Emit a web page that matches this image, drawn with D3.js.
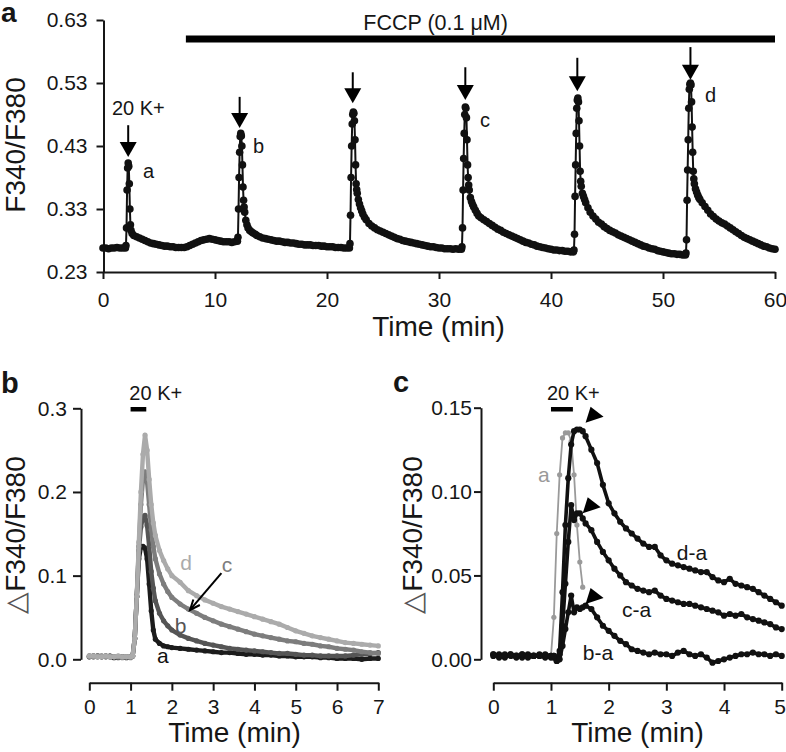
<!DOCTYPE html>
<html><head><meta charset="utf-8">
<script src="https://cdn.jsdelivr.net/npm/d3@7"></script>
<style>body{margin:0;background:#fff}</style>
</head><body><svg id="chart" width="786" height="752"></svg>
<script>
// ---------------- DATA ----------------
// Panel a: F340/F380 ratio over time [min, ratio]
const traceA = [
[0,0.268],[0.25,0.268],[0.5,0.267],[0.75,0.268],[1,0.268],[1.25,0.269],[1.5,0.268],[1.75,0.268],[2,0.268],
[2.05,0.272],[2.1,0.3],[2.15,0.36],[2.2,0.395],[2.25,0.403],[2.3,0.398],[2.35,0.37],[2.4,0.33],[2.45,0.305],[2.5,0.296],[2.6,0.291],[2.75,0.288],
[3,0.286],[3.25,0.284],[3.5,0.282],[3.75,0.28],[4,0.278],[4.25,0.276],[4.5,0.275],[4.75,0.274],[5,0.273],[5.25,0.272],[5.5,0.271],[5.75,0.271],
[6,0.27],[6.25,0.27],[6.5,0.269],[6.75,0.269],[7,0.269],[7.25,0.269],[7.5,0.27],[7.75,0.272],[8,0.274],[8.25,0.276],[8.5,0.278],[8.75,0.28],
[9,0.281],[9.25,0.282],[9.5,0.283],[9.75,0.282],[10,0.281],[10.25,0.28],[10.5,0.279],[10.75,0.278],[11,0.278],[11.25,0.278],[11.5,0.277],[11.75,0.278],[12,0.279],
[12.05,0.285],[12.1,0.33],[12.15,0.38],[12.2,0.42],[12.25,0.445],[12.3,0.45],[12.35,0.446],[12.4,0.43],[12.45,0.4],[12.5,0.365],[12.55,0.344],[12.6,0.333],[12.65,0.325],[12.75,0.312],[12.85,0.305],[12.95,0.3],[13.1,0.296],
[13.25,0.294],[13.4,0.292],[13.6,0.29],[13.75,0.288],[14,0.286],[14.25,0.284],[14.5,0.283],[14.75,0.282],[15,0.281],[15.25,0.28],[15.5,0.279],[15.75,0.279],[16,0.278],[16.25,0.277],[16.5,0.277],[16.75,0.276],
[17,0.276],[17.25,0.275],[17.5,0.274],[17.75,0.274],[18,0.273],[18.25,0.273],[18.5,0.273],[18.75,0.272],[19,0.272],[19.25,0.272],[19.5,0.271],[19.75,0.271],
[20,0.27],[20.25,0.27],[20.5,0.27],[20.75,0.269],[21,0.269],[21.25,0.269],[21.5,0.268],[21.75,0.268],[22,0.268],
[22.05,0.275],[22.1,0.32],[22.15,0.38],[22.2,0.43],[22.25,0.465],[22.3,0.48],[22.35,0.484],[22.4,0.482],[22.45,0.47],[22.5,0.44],[22.55,0.4],[22.6,0.37],[22.65,0.361],[22.7,0.355],[22.8,0.345],[22.9,0.338],[23,0.332],[23.1,0.327],[23.2,0.322],
[23.35,0.317],[23.5,0.313],[23.75,0.307],[24,0.303],[24.25,0.3],[24.5,0.297],[24.75,0.295],[25,0.293],[25.25,0.291],[25.5,0.289],[25.75,0.287],[26,0.285],[26.25,0.283],[26.5,0.282],[26.75,0.28],
[27,0.279],[27.25,0.278],[27.5,0.277],[27.75,0.276],[28,0.275],[28.25,0.274],[28.5,0.273],[28.75,0.272],[29,0.271],[29.25,0.27],[29.5,0.27],[29.75,0.269],
[30,0.268],[30.25,0.268],[30.5,0.267],[30.75,0.267],[31,0.267],[31.25,0.266],[31.5,0.267],[31.75,0.266],[32,0.266],
[32.05,0.27],[32.1,0.3],[32.15,0.36],[32.2,0.41],[32.25,0.45],[32.3,0.48],[32.35,0.492],[32.4,0.49],[32.45,0.475],[32.5,0.44],[32.55,0.4],[32.6,0.38],[32.65,0.368],[32.7,0.36],[32.8,0.348],[32.9,0.342],[33,0.337],[33.1,0.333],
[33.25,0.328],[33.4,0.323],[33.55,0.319],[33.75,0.316],[34,0.313],[34.25,0.31],[34.5,0.307],[34.75,0.304],[35,0.301],[35.25,0.298],[35.5,0.296],[35.75,0.293],[36,0.291],[36.25,0.289],[36.5,0.287],[36.75,0.285],
[37,0.283],[37.25,0.281],[37.5,0.279],[37.75,0.277],[38,0.276],[38.25,0.274],[38.5,0.273],[38.75,0.271],[39,0.27],[39.25,0.269],[39.5,0.268],[39.75,0.267],
[40,0.266],[40.25,0.265],[40.5,0.265],[40.75,0.264],[41,0.264],[41.25,0.263],[41.5,0.263],[41.75,0.262],[42,0.262],
[42.05,0.265],[42.1,0.29],[42.15,0.35],[42.2,0.4],[42.25,0.45],[42.3,0.49],[42.35,0.503],[42.4,0.506],[42.45,0.5],[42.5,0.47],[42.55,0.43],[42.6,0.39],[42.65,0.374],[42.7,0.366],[42.8,0.355],[42.9,0.35],[43,0.345],[43.1,0.34],
[43.3,0.332],[43.5,0.325],[43.75,0.319],[44,0.314],[44.25,0.309],[44.5,0.306],[44.75,0.302],[45,0.299],[45.25,0.296],[45.5,0.294],[45.75,0.292],[46,0.289],[46.25,0.287],[46.5,0.285],[46.75,0.283],
[47,0.281],[47.25,0.279],[47.5,0.277],[47.75,0.275],[48,0.273],[48.25,0.271],[48.5,0.27],[48.75,0.268],[49,0.267],[49.25,0.266],[49.5,0.264],[49.75,0.263],
[50,0.262],[50.25,0.261],[50.5,0.26],[50.75,0.259],[51,0.259],[51.25,0.258],[51.5,0.258],[51.75,0.257],[52,0.257],
[52.05,0.26],[52.1,0.281],[52.15,0.344],[52.2,0.392],[52.25,0.44],[52.3,0.49],[52.35,0.52],[52.4,0.528],[52.45,0.53],[52.5,0.527],[52.55,0.5],[52.6,0.46],[52.65,0.42],[52.7,0.39],[52.75,0.378],[52.8,0.37],[52.9,0.362],[53,0.357],[53.1,0.352],
[53.2,0.348],[53.3,0.345],[53.5,0.34],[53.75,0.334],[54,0.328],[54.25,0.322],[54.5,0.318],[54.75,0.314],[55,0.311],[55.25,0.308],[55.5,0.306],[55.75,0.303],
[56,0.3],[56.25,0.297],[56.5,0.294],[56.75,0.291],[57,0.288],[57.25,0.285],[57.5,0.283],[57.75,0.281],[58,0.279],[58.25,0.277],[58.5,0.275],[58.75,0.273],
[59,0.271],[59.25,0.27],[59.5,0.268],[59.75,0.267],[60,0.266]
];
const xTicksA = [0,10,20,30,40,50,60];
const yTicksA = [0.23,0.33,0.43,0.53,0.63];
const fccpBar = [7.4, 60];
const arrowTimes = [2.25,12.2,22.3,32.35,42.35,52.45];
const arrowTip  = [0.4125,0.4586,0.498,0.503,0.517,0.535];
const arrowTail = [0.463,0.508,0.547,0.555,0.57,0.587];
const peakLabelsA = ['a','b','c','d'];
const peakLabelT  = [3.57,13.4,33.66,53.75];
const peakLabelV  = [0.379,0.419,0.46,0.5];

// Panel b: ΔF340/F380 for responses a-d
const timeB = [0,0.1,0.2,0.3,0.4,0.5,0.6,0.7,0.8,0.9,1.0,
 1.05,1.1,1.15,1.2,1.25,1.3,1.35,1.4,1.45,1.5,1.55,1.6,
 1.7,1.8,1.9,2.0,
 2.2,2.4,2.6,2.8,3.0,3.2,3.4,3.6,3.8,4.0,4.2,4.4,4.6,4.8,5.0,5.2,5.4,5.6,5.8,6.0,6.2,6.4,6.6,6.8,7.0];
const respA = [0.003,0.004,0.003,0.003,0.004,0.003,0.002,0.003,0.003,0.002,0.003,
 0.004,0.025,0.075,0.12,0.134,0.135,0.133,0.12,0.09,0.058,0.035,0.024,
 0.019,0.016,0.015,0.014,
 0.013,0.012,0.011,0.010,0.009,0.008,0.008,0.007,0.006,0.006,0.005,0.005,0.004,0.004,0.003,0.003,0.003,0.002,0.002,0.001,0.001,0.001,0.000,0.001,0.001];
const respB = [0.004,0.003,0.004,0.003,0.003,0.004,0.003,0.002,0.003,0.003,0.003,
 0.004,0.025,0.075,0.13,0.158,0.17,0.172,0.16,0.135,0.105,0.085,0.07,
 0.055,0.046,0.04,0.035,
 0.029,0.025,0.022,0.019,0.017,0.015,0.013,0.012,0.011,0.010,0.009,0.008,0.007,0.007,0.006,0.005,0.005,0.004,0.004,0.004,0.004,0.005,0.006,0.007,0.008];
const respC = [0.003,0.003,0.004,0.004,0.003,0.003,0.003,0.003,0.002,0.003,0.002,
 0.004,0.025,0.075,0.135,0.185,0.215,0.224,0.212,0.185,0.155,0.135,0.12,
 0.102,0.09,0.081,0.074,
 0.066,0.06,0.055,0.05,0.046,0.042,0.039,0.036,0.033,0.03,0.028,0.026,0.024,0.022,0.021,0.019,0.018,0.016,0.015,0.013,0.012,0.011,0.009,0.008,0.007];
const respD = [0.004,0.004,0.003,0.003,0.004,0.003,0.003,0.004,0.003,0.003,0.003,
 0.004,0.025,0.075,0.14,0.2,0.245,0.268,0.25,0.215,0.185,0.163,0.148,
 0.13,0.118,0.108,0.1,
 0.092,0.082,0.076,0.071,0.067,0.063,0.06,0.057,0.054,0.051,0.048,0.045,0.042,0.038,0.034,0.031,0.028,0.026,0.024,0.022,0.02,0.019,0.018,0.017,0.016];
const xTicksB = [0,1,2,3,4,5,6,7];
const yTicksB = [0,0.1,0.2,0.3];
const seriesNamesB = ['a','b','c','d'];
const labelTB = [1.64,2.07,3.21,2.2];
const labelVB = [-0.0044,0.0314,0.1043,0.1067];

// Panel c: differences relative to response a
const timeC = [0,0.1,0.2,0.3,0.4,0.5,0.6,0.7,0.8,0.9,1.0,
 1.05,1.1,1.15,1.2,1.25,1.3,1.35,1.4,1.45,1.5,1.55,1.6,
 1.7,1.8,1.9,2.0,2.1,2.2,2.3,2.4,2.5,2.6,2.7,2.8,2.9,3.0,3.1,3.2,3.3,3.4,3.5,3.6,3.7,3.8,3.9,4.0,4.1,4.2,4.3,4.4,4.5,4.6,4.7,4.8,4.9,5.0];
const refA = [0.002,0.003,0.002,0.002,0.003,0.002,0.002,0.003,0.002,0.002,0.002,
 0.025,0.075,0.11,0.132,0.135,0.135,0.13,0.11,0.08,0.058,0.043];
const diffDA = [0.002,0.003,0.001,0.003,0.002,0.001,0.003,0.002,0.002,0.001,0.002,
 0.001,-0.001,0.005,0.04,0.08,0.108,0.128,0.136,0.137,0.137,0.136,0.133,
 0.125,0.117,0.104,0.093,0.087,0.082,0.078,0.075,0.072,0.069,
 0.067,0.067,0.062,0.059,0.057,0.056,0.055,0.054,0.053,0.052,
 0.052,0.049,0.047,0.046,0.048,0.045,0.044,0.043,0.042,0.04,
 0.038,0.036,0.034,0.032];
const diffCA = [0.003,0.002,0.003,0.002,0.001,0.003,0.002,0.002,0.003,0.002,0.001,
 0.002,0.0,0.003,0.02,0.045,0.07,0.092,0.083,0.087,0.087,0.084,0.081,
 0.077,0.07,0.064,0.059,0.054,0.05,0.046,0.044,0.042,0.041,
 0.04,0.041,0.038,0.036,0.035,0.034,0.033,0.033,0.032,0.031,
 0.03,0.029,0.028,0.026,0.027,0.026,0.027,0.025,0.024,0.023,
 0.022,0.021,0.019,0.018];
const diffBA = [0.003,0.001,0.002,0.003,0.002,0.003,0.001,0.002,0.002,0.003,0.002,
 0.002,-0.001,0.0,0.008,0.018,0.028,0.038,0.028,0.031,0.03,0.031,0.032,
 0.03,0.025,0.02,0.017,0.014,0.011,0.009,0.006,0.005,0.004,
 0.003,0.004,0.003,0.003,0.002,0.004,0.005,0.003,0.002,0.003,
 0.001,-0.002,-0.001,0.0,0.001,0.002,0.003,0.003,0.004,0.003,
 0.003,0.002,0.003,0.002];
const xTicksC = [0,1,2,3,4,5];
const yTicksC = [0,0.05,0.1,0.15];
const diffLabels = ['a','d-a','c-a','b-a'];
const diffLabelT = [0.775,3.18,2.23,1.55];
const diffLabelV = [0.1057,0.0592,0.0252,-0.0004];
const peakMarkT = [1.6,1.55,1.6];
const peakMarkV = [0.141,0.087,0.033];
const stimBar = [1.0,1.38];

// ---------------- DRAW ----------------
const FONT = "'Liberation Sans', Arial, Helvetica, sans-serif";
const INK = '#161616';
const svg = d3.select('#chart');

const xA = d3.scaleLinear([0,60],[103,775]);
const yA = d3.scaleLinear([0.23,0.63],[272,20]);
const xB = d3.scaleLinear([0,7],[89.3,378.3]);
const yB = d3.scaleLinear([0,0.3],[659.3,408.3]);
const xC = d3.scaleLinear([0,5],[493.3,781.7]);
const yC = d3.scaleLinear([0,0.15],[659.3,407.7]);

function styleAxis(g){
  g.select('.domain').attr('stroke',INK).attr('stroke-width',2);
  g.selectAll('.tick line').attr('stroke',INK).attr('stroke-width',2);
  g.selectAll('.tick text').attr('fill',INK).style('font-size','21px').style('font-family',FONT);
}
function text(x,y,str,opts={}){
  const t = svg.append('text').attr('x',x).attr('y',y).text(str)
    .style('font-family',FONT).style('font-size',(opts.size||21)+'px')
    .attr('fill',opts.fill||INK).attr('text-anchor',opts.anchor||'start');
  if(opts.bold) t.style('font-weight','bold');
  if(opts.rotate) t.attr('transform',`rotate(-90,${x},${y})`);
  return t;
}

// ===== Panel a =====
svg.append('g').attr('transform','translate(103.5,0)')
  .call(d3.axisLeft(yA).tickValues(yTicksA).tickFormat(d3.format('.2f')).tickSize(7).tickSizeOuter(0).tickPadding(9))
  .call(styleAxis);
svg.append('g').attr('transform','translate(0,272)')
  .call(d3.axisBottom(xA).tickValues(xTicksA).tickFormat(d3.format('d')).tickSize(7).tickSizeOuter(0).tickPadding(13))
  .call(styleAxis);

const lineA = d3.line().x(d=>xA(d[0])).y(d=>yA(d[1]));
svg.append('path').datum(traceA).attr('d',lineA).attr('fill','none').attr('stroke','#111').attr('stroke-width',2);
svg.append('g').selectAll('circle').data(traceA).join('circle')
  .attr('cx',d=>xA(d[0])).attr('cy',d=>yA(d[1])).attr('r',3.8).attr('fill','#111');

// FCCP bar
svg.append('rect').attr('x',xA(fccpBar[0])).attr('width',xA(fccpBar[1])-xA(fccpBar[0]))
  .attr('y',35.5).attr('height',7).attr('fill','#000');
text(xA(29.7),30,'FCCP (0.1 μM)',{anchor:'middle',size:21.5});

// arrows
arrowTimes.forEach((t,i)=>{
  const x = xA(t), yTip = yA(arrowTip[i]), yTail = yA(arrowTail[i]);
  svg.append('line').attr('x1',x).attr('x2',x).attr('y1',yTail).attr('y2',yTip-10).attr('stroke','#000').attr('stroke-width',2);
  svg.append('path').attr('d',`M${x-8.5},${yTip-15}L${x+8.5},${yTip-15}L${x},${yTip}Z`).attr('fill','#000');
});
text(xA(0.8),yA(0.479),'20 K+',{size:20});
peakLabelsA.forEach((l,i)=>text(xA(peakLabelT[i]),yA(peakLabelV[i]),l,{size:20}));

text(438.5,336,'Time (min)',{anchor:'middle',size:28});
text(25,145,'F340/F380',{anchor:'middle',size:28,rotate:true});
text(1,22,'a',{size:28,bold:true});

// ===== Panel b =====
svg.append('g').attr('transform','translate(81,0)')
  .call(d3.axisLeft(yB).tickValues(yTicksB).tickFormat(d3.format('.1f')).tickSize(8).tickSizeOuter(0).tickPadding(6))
  .call(styleAxis);
svg.append('g').attr('transform','translate(0,682.7)')
  .call(d3.axisBottom(xB).tickValues(xTicksB).tickFormat(d3.format('d')).tickSize(8).tickSizeOuter(0).tickPadding(8))
  .call(styleAxis);

const colorsB = ['#1c1c1c','#555555','#7d7d7d','#ababab'];
[respA,respB,respC,respD].forEach((vals,k)=>{
  const ln = d3.line().x((d,i)=>xB(timeB[i])).y(d=>yB(d));
  svg.append('path').datum(vals).attr('d',ln).attr('fill','none').attr('stroke',colorsB[k]).attr('stroke-width',4.4).attr('stroke-linejoin','round');
  svg.append('g').selectAll('circle').data(vals).join('circle')
    .attr('cx',(d,i)=>xB(timeB[i])).attr('cy',d=>yB(d)).attr('r',2.6).attr('fill',colorsB[k]);
});
seriesNamesB.forEach((l,i)=>text(xB(labelTB[i]),yB(labelVB[i]),l,{size:21,fill:i===0?'#111':colorsB[i]}));
// pointer arrow to c
{
  const x1=xB(3.2), y1=yB(0.103), x2=xB(2.44), y2=yB(0.059);
  svg.append('line').attr('x1',x1).attr('y1',y1).attr('x2',x2).attr('y2',y2).attr('stroke','#000').attr('stroke-width',2);
  const ang = Math.atan2(y1-y2,x1-x2), L=11, sp=0.4;
  svg.append('path').attr('d',`M${x2+L*Math.cos(ang-sp)},${y2+L*Math.sin(ang-sp)}L${x2},${y2}L${x2+L*Math.cos(ang+sp)},${y2+L*Math.sin(ang+sp)}`)
    .attr('fill','none').attr('stroke','#000').attr('stroke-width',2);
}
// stimulus bar
svg.append('rect').attr('x',xB(stimBar[0])).attr('width',xB(stimBar[1])-xB(stimBar[0])).attr('y',407).attr('height',4.5).attr('fill','#000');
text(xB(0.97),400,'20 K+',{size:20});
text(234.5,742,'Time (min)',{anchor:'middle',size:28});
{
  const t = text(25,535,'',{anchor:'middle',size:28,rotate:true});
  t.append('tspan').text('△').attr('fill','#555');
  t.append('tspan').text('F340/F380');
}
text(1,393,'b',{size:29,bold:true});

// ===== Panel c =====
svg.append('g').attr('transform','translate(481,0)')
  .call(d3.axisLeft(yC).tickValues(yTicksC).tickFormat(d3.format('.2f')).tickSize(7).tickSizeOuter(0).tickPadding(2))
  .call(styleAxis);
svg.append('g').attr('transform','translate(0,682.7)')
  .call(d3.axisBottom(xC).tickValues(xTicksC).tickFormat(d3.format('d')).tickSize(8).tickSizeOuter(0).tickPadding(8))
  .call(styleAxis)
  .call(g=>g.selectAll('.tick:last-of-type text').attr('dx',-2));

// reference a (gray)
{
  const ln = d3.line().x((d,i)=>xC(timeC[i])).y(d=>yC(d));
  svg.append('path').datum(refA).attr('d',ln).attr('fill','none').attr('stroke','#9a9a9a').attr('stroke-width',1.8);
  svg.append('g').selectAll('circle').data(refA).join('circle')
    .attr('cx',(d,i)=>xC(timeC[i])).attr('cy',d=>yC(d)).attr('r',2.6).attr('fill','#9a9a9a');
}
[diffDA,diffCA,diffBA].forEach(vals=>{
  const ln = d3.line().x((d,i)=>xC(timeC[i])).y(d=>yC(d));
  svg.append('path').datum(vals).attr('d',ln).attr('fill','none').attr('stroke','#111').attr('stroke-width',3.6).attr('stroke-linejoin','round');
  svg.append('g').selectAll('circle').data(vals).join('circle')
    .attr('cx',(d,i)=>xC(timeC[i])).attr('cy',d=>yC(d)).attr('r',3.1).attr('fill','#111');
});
peakMarkT.forEach((t,i)=>{
  const x=xC(t), y=yC(peakMarkV[i]);
  svg.append('path').attr('d',`M${x},${y}L${x+5},${y-16}L${x+18},${y-6}Z`).attr('fill','#000');
});
diffLabels.forEach((l,i)=>text(xC(diffLabelT[i]),yC(diffLabelV[i]),l,{size:21,fill:i===0?'#999':INK}));
svg.append('rect').attr('x',xC(stimBar[0])).attr('width',xC(stimBar[1])-xC(stimBar[0])).attr('y',407).attr('height',4.5).attr('fill','#000');
text(xC(0.93),400,'20 K+',{size:20});
text(637.5,742,'Time (min)',{anchor:'middle',size:28});
{
  const t = text(422,535,'',{anchor:'middle',size:28,rotate:true});
  t.append('tspan').text('△').attr('fill','#555');
  t.append('tspan').text('F340/F380');
}
text(393,392,'c',{size:29,bold:true});
</script></body></html>
